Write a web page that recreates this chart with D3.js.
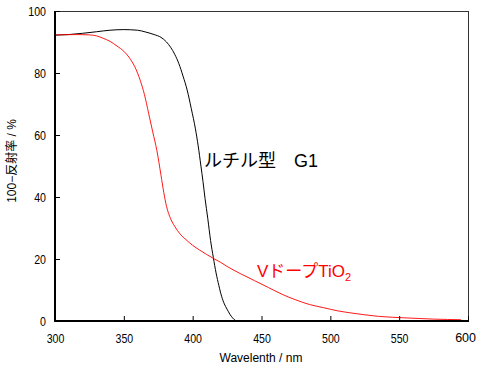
<!DOCTYPE html>
<html><head><meta charset="utf-8">
<script src="https://cdn.jsdelivr.net/npm/d3@7"></script>
<style>
html,body{margin:0;padding:0;background:#fff;}
svg{display:block;}
text{font-family:"Liberation Sans","Noto Sans CJK JP",Arial,sans-serif;}
</style></head>
<body>
<svg id="chart" width="477" height="369"></svg>
<script>
// Rutile G1 (black)
const rutileWavelength = [300,310,320,330,340,350,360,366,372,377,381,384,387,390,393,396,399,402,404,406,407.5,409,411,413,415,417,419,421,423,425,427,429,431,433];
const rutileValue      = [92.2,92.4,92.8,93.3,93.8,94.0,93.8,93.2,92.4,91.5,90,88.3,86,83,79,74.5,68.5,62,56.5,50,45,39.5,33,26,20.5,15.5,11.5,8,5.5,3.8,2.2,1,0.2,0];
// V-doped TiO2 (red)
const vdopeWavelength = [300,315,325,330,335,340,345,350,355,358,362,365,368,371,374,377,379,381,384,387,391,396,400,405,410,415,420,425,435,445,455,465,475,485,495,505,515,525,535,545,555,565,575,585,595];
const vdopeValue      = [92.3,92.4,92.3,92,91.2,90.2,88.7,87,84.3,82,77.5,73,67,61,55,47,41.5,37,33,30.5,28,25.9,24.4,22.9,21.5,20.2,19,17.6,15.2,13,10.8,8.6,6.8,5.3,4.3,3.3,2.6,2.0,1.5,1.2,1.0,0.8,0.6,0.5,0.4];
const xTicks = [300,350,400,450,500,550,600];
const yTicks = [0,20,40,60,80,100];
const xLabel = "Wavelenth / nm";
const yLabel = "100−反射率 / %";
const rutileLabel = "ルチル型　G1";

const svg = d3.select("#chart");
const L = 55, R = 468, T = 11, B = 321;
const x = d3.scaleLinear().domain([300,600]).range([L,R]);
const y = d3.scaleLinear().domain([0,100]).range([B,T]);

// frame top/right
svg.append("line").attr("x1",L).attr("x2",R).attr("y1",T+0.5).attr("y2",T+0.5).attr("stroke","#333").attr("stroke-width",1);
svg.append("line").attr("x1",R+0.5).attr("x2",R+0.5).attr("y1",T).attr("y2",B).attr("stroke","#333").attr("stroke-width",1);

const line = d3.line().x(d=>x(d[0])).y(d=>y(d[1])).curve(d3.curveMonotoneX);
const rutile = rutileWavelength.map((w,i)=>[w,rutileValue[i]]);
const vdope = vdopeWavelength.map((w,i)=>[w,vdopeValue[i]]);

svg.append("path").datum(rutile).attr("d",line).attr("fill","none").attr("stroke","#000").attr("stroke-width",1);
svg.append("path").datum(vdope).attr("d",line).attr("fill","none").attr("stroke","#ff0000").attr("stroke-width",1).attr("opacity",0.9);

const digitW = 5.9;
// axes
const xAxis = d3.axisBottom(x).tickValues(xTicks).tickSize(-5).tickPadding(12).tickFormat(d3.format("d"));
const gx = svg.append("g").attr("transform",`translate(0,${B})`).call(xAxis);
gx.select(".domain").attr("stroke","#000").attr("stroke-width",2).attr("d",`M${L-1},0H${R+1}`);
gx.selectAll(".tick line").attr("stroke","#000").attr("stroke-width",1);
gx.selectAll(".tick text").attr("font-size",13.5).attr("fill","#000")
  .attr("textLength",d=>String(d).length*digitW).attr("lengthAdjust","spacingAndGlyphs");
gx.selectAll(".tick text").filter((d,i,n)=>i===n.length-1)
  .attr("textLength",null).attr("lengthAdjust",null)
  .attr("font-size",12.5).attr("text-anchor","end").attr("x",7.5);

const yAxis = d3.axisLeft(y).tickValues(yTicks).tickSize(-5).tickPadding(9);
const gy = svg.append("g").attr("transform",`translate(${L},0)`).call(yAxis);
gy.select(".domain").attr("stroke","#000").attr("stroke-width",2).attr("d",`M0,${T}V${B+1}`);
gy.selectAll(".tick line").attr("stroke","#000").attr("stroke-width",1);
gy.selectAll(".tick text").attr("font-size",13.5).attr("fill","#000")
  .attr("textLength",d=>String(d).length*digitW).attr("lengthAdjust","spacingAndGlyphs");

svg.append("text").attr("x",261).attr("y",362).attr("text-anchor","middle").attr("font-size",12).text(xLabel);
svg.append("text").attr("transform","translate(16,161) rotate(-90)").attr("text-anchor","middle").attr("font-size",12).text(yLabel);

svg.append("text").attr("x",204).attr("y",167).attr("font-size",18).attr("fill","#000").text(rutileLabel);
const vt = svg.append("text").attr("x",257).attr("y",277).attr("font-size",17).attr("fill","#ff0000");
vt.append("tspan").text("VドープTiO");
vt.append("tspan").attr("font-size",11).attr("dy",4).text("2");
</script>
</body></html>
